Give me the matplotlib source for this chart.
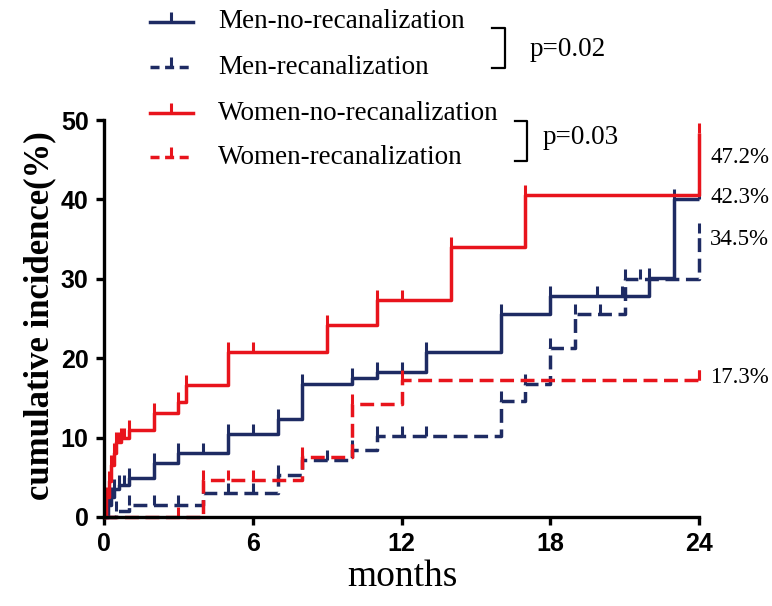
import numpy as np
import matplotlib
matplotlib.use("Agg")
import matplotlib.pyplot as plt
from matplotlib.lines import Line2D

# -----------------------------
# Data
# -----------------------------
labels = ["Men-no-recanalization", "Men-recanalization",
          "Women-no-recanalization", "Women-recanalization"]

# event times (months) and cumulative incidence (%) after each event
men_no_t = [0, 0.15, 0.3, 0.4, 0.6, 1, 2, 3, 5, 7, 8, 10, 11, 13, 16, 18, 22, 23, 24]
men_no_v = [0, 1.5, 2.5, 3.5, 4.0, 4.9, 6.8, 8.0, 10.5, 12.3, 16.7, 17.5, 18.3, 20.8, 25.6, 27.8, 30.1, 40.0, 40.0]
men_no_c = [0.8, 4, 6, 12, 19.9, 20.9]

men_re_t = [0, 0.5, 1, 4, 7, 8, 10, 11, 16, 17, 18, 19, 21, 24]
men_re_v = [0, 0.7, 1.5, 3.0, 5.3, 7.2, 8.4, 10.2, 14.6, 16.8, 21.3, 25.6, 30.0, 35.8]
men_re_c = [2, 3, 5, 6, 9, 12, 13, 20, 21.6]

wom_no_t = [0, 0.1, 0.2, 0.3, 0.4, 0.5, 0.7, 1, 2, 3, 3.3, 5, 9, 11, 14, 17, 24]
wom_no_v = [0, 2.5, 4.5, 6.5, 8.0, 9.5, 10.0, 11.0, 13.1, 14.5, 16.6, 20.8, 24.2, 27.3, 34.0, 40.6, 48.4]
wom_no_c = [0.6, 0.8, 6, 12]

wom_re_t = [0, 4, 8, 10, 12, 24]
wom_re_v = [0, 4.6, 7.6, 14.2, 17.3, 17.3]
wom_re_c = [3, 5, 6, 24]

end_labels = ["47.2%", "42.3%", "34.5%", "17.3%"]
end_label_y = [45.3, 40.2, 34.9, 17.6]

x_ticks = [0, 6, 12, 18, 24]
y_ticks = [0, 10, 20, 30, 40, 50]

navy = "#1e2b63"
red = "#e8141c"
series = [
    (men_no_t, men_no_v, men_no_c, navy, "-"),
    (men_re_t, men_re_v, men_re_c, navy, "--"),
    (wom_no_t, wom_no_v, wom_no_c, red, "-"),
    (wom_re_t, wom_re_v, wom_re_c, red, "--"),
]

SERIF = "Liberation Serif"
SANS = "Liberation Sans"
W, H = 772, 606

def fx(px):
    return px / W

def fy(py):
    return 1 - py / H

def level_at(t, v, c):
    idx = np.searchsorted(np.array(t), np.array(c), side="right") - 1
    return np.array(v)[idx]

# -----------------------------
# Plot
# -----------------------------
fig = plt.figure(figsize=(W / 100, H / 100), dpi=100)
ax = fig.add_axes([fx(104), fy(517), fx(699) - fx(104), fy(120) - fy(517)])

lw = 2.5
for t, v, c, col, ls in series:
    dash = dict(dashes=(4.0, 1.9)) if ls == "--" else {}
    ax.step(t, v, where="post", color=col, lw=lw, linestyle=ls,
            clip_on=False, solid_capstyle="butt", **dash)
    # tick marks: at every step and at censored times
    ax.plot(t[1:], v[1:], linestyle="none", marker=2, markersize=7,
            mew=2.2, color=col, clip_on=False)
    ax.plot(c, level_at(t, v, c), linestyle="none", marker=2,
            markersize=7, mew=2.2, color=col, clip_on=False)

ax.set_xlim(0, 24)
ax.set_ylim(0, 50)
ax.set_xticks(x_ticks)
ax.set_yticks(y_ticks)
for s in ["top", "right"]:
    ax.spines[s].set_visible(False)
for s in ["left", "bottom"]:
    ax.spines[s].set_linewidth(2.4)
ax.tick_params(axis="both", direction="out", length=6, width=2.4, pad=5)
for lab in ax.get_xticklabels() + ax.get_yticklabels():
    lab.set_fontfamily(SANS)
    lab.set_fontweight("bold")
    lab.set_fontsize(18)

fig.text(fx(402), fy(577), "months", family=SERIF, fontsize=27,
         ha="center", va="center")
fig.text(fx(40), fy(316), "cumulative incidence(%)", family=SERIF,
         fontsize=25, fontweight="bold", rotation=90,
         ha="center", va="center")

for txt, yv in zip(end_labels, end_label_y):
    ax.text(24.45, yv, txt, family=SERIF, fontsize=16.5, ha="left",
            va="center", clip_on=False)

# -----------------------------
# Legend (drawn by hand)
# -----------------------------
row_y = [22, 67, 113, 157]
for (t, v, c, col, ls), lab, ry in zip(series, labels, row_y):
    dash = dict(dashes=(2.6, 1.6)) if ls == "--" else {}
    fig.add_artist(Line2D([fx(150), fx(171), fx(193)], [fy(ry)] * 3,
                          color=col, lw=lw, linestyle=ls, marker=2,
                          markevery=[1], markersize=7, mew=2.2, **dash))
    fig.text(fx(218), fy(ry), lab, family=SERIF, fontsize=19.5,
             ha="left", va="center")

# p-value brackets
fig.add_artist(Line2D([fx(492), fx(505), fx(505), fx(492)],
                      [fy(28), fy(28), fy(68), fy(68)], color="black", lw=1.6))
fig.text(fx(530), fy(49), "p=0.02", family=SERIF, fontsize=19.5,
         ha="left", va="center")
fig.add_artist(Line2D([fx(515), fx(527), fx(527), fx(515)],
                      [fy(121), fy(121), fy(161), fy(161)], color="black", lw=1.6))
fig.text(fx(543), fy(137), "p=0.03", family=SERIF, fontsize=19.5,
         ha="left", va="center")

fig.savefig("out.png", dpi=100)
